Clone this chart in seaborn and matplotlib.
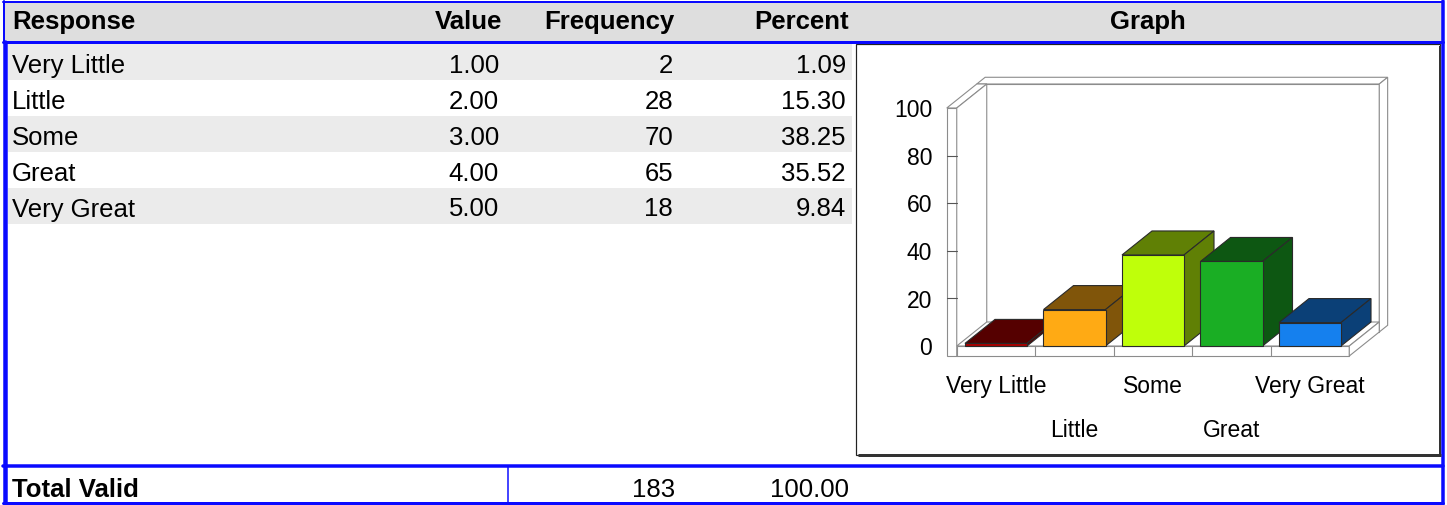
import pandas as pd
import matplotlib
matplotlib.use('Agg')
import matplotlib.pyplot as plt
import seaborn as sns
from matplotlib.patches import Rectangle, Polygon

# frequency table data
responses = ['Very Little', 'Little', 'Some', 'Great', 'Very Great']
values = [1.00, 2.00, 3.00, 4.00, 5.00]
frequencies = [2, 28, 70, 65, 18]
percents = [1.09, 15.30, 38.25, 35.52, 9.84]
total_label = 'Total Valid'
total_freq = 183
total_pct = 100.00
headers = ['Response', 'Value', 'Frequency', 'Percent', 'Graph']
y_ticks = [0, 20, 40, 60, 80, 100]
front_colors = ['#aa0000', '#ffaa14', '#bfff0a', '#1aae24', '#1580ee']

sns.set_style('white')
plt.rcParams['font.family'] = ['Liberation Sans', 'DejaVu Sans']
plt.rcParams['text.color'] = 'black'

W, H = 1447, 506
PT = 0.72  # points per pixel at dpi 100
BLUE = '#0a0aff'
fig = plt.figure(figsize=(W / 100, H / 100), dpi=100)

# ---- table layer, pixel coordinates ----
tab = fig.add_axes([0, 0, 1, 1])
tab.set_xlim(0, W)
tab.set_ylim(H, 0)
tab.axis('off')

tab.add_patch(Rectangle((3, 3), 1440, 39, fc='#dedede', ec='none'))
for i in range(0, len(responses), 2):
    tab.add_patch(Rectangle((8, 45 + 36 * i), 844, 36, fc='#ebebeb', ec='none'))

fs = 18.5
tab.text(12, 28.5, headers[0], ha='left', va='baseline', fontsize=fs, fontweight='bold')
for h, x in zip(headers[1:4], [502, 675, 849]):
    tab.text(x, 28.5, h, ha='right', va='baseline', fontsize=fs, fontweight='bold')
tab.text(1148, 28.5, headers[4], ha='center', va='baseline', fontsize=fs, fontweight='bold')

for i, (r, v, f, p) in enumerate(zip(responses, values, frequencies, percents)):
    yb = 72.5 + 36 * i
    tab.text(12, yb, r, ha='left', va='baseline', fontsize=fs)
    tab.text(499, yb, f'{v:.2f}', ha='right', va='baseline', fontsize=fs)
    tab.text(673, yb, f'{f}', ha='right', va='baseline', fontsize=fs)
    tab.text(846, yb, f'{p:.2f}', ha='right', va='baseline', fontsize=fs)

tab.text(12, 497, total_label, ha='left', va='baseline', fontsize=fs, fontweight='bold')
tab.text(675, 497, f'{total_freq}', ha='right', va='baseline', fontsize=fs)
tab.text(849, 497, f'{total_pct:.2f}', ha='right', va='baseline', fontsize=fs)

# blue frame
tab.plot([3, 1443], [2.5, 2.5], color=BLUE, lw=2 * PT)
tab.plot([3, 1443], [43, 43], color=BLUE, lw=3 * PT)
tab.plot([3.5, 3.5], [2, 43], color=BLUE, lw=2 * PT)
tab.plot([5, 5], [43, 505], color=BLUE, lw=4.5 * PT)
tab.plot([1442.5, 1442.5], [2, 505], color=BLUE, lw=3.5 * PT)
tab.plot([3, 1443], [466.5, 466.5], color=BLUE, lw=3.5 * PT)
tab.plot([3, 1443], [503.5, 503.5], color=BLUE, lw=3 * PT)
tab.plot([508, 508], [467, 503], color=BLUE, lw=1.5 * PT)

# graph box with shadow
tab.add_patch(Rectangle((856, 45), 584, 411, fc='white', ec='#222222', lw=1.2 * PT))
tab.plot([858, 1441], [456, 456], color='#333333', lw=3 * PT, solid_capstyle='butt')
tab.plot([1440, 1440], [47, 457], color='#333333', lw=2 * PT, solid_capstyle='butt')

# ---- 3D bar chart ----
PX, PY = 78.5, 2.38          # pixels per category / per percent
X0PX, Y0PX = 996, 347        # pixel of first category at 0 %
L, R, T, B = 857, 1438, 47, 455
ax = fig.add_axes([L / W, (H - B) / H, (R - L) / W, (B - T) / H])
ax.patch.set_alpha(0)

df = pd.DataFrame({'Response': responses, 'Percent': percents})
sns.barplot(data=df, x='Response', y='Percent', hue='Response', palette=front_colors,
            saturation=1, width=0.79, errorbar=None, legend=False,
            edgecolor='#2a2a2a', linewidth=0.8, ax=ax)
bars = list(ax.patches)

ax.set_xlim((L - X0PX) / PX, (R - X0PX) / PX)
ax.set_ylim((Y0PX - B) / PY, (Y0PX - T) / PY)
ax.axis('off')

DX, DY = 30 / PX, 24 / PY    # depth vector
WALL, FLOOR, BACK = 10 / PX, 10 / PY, 0.28
n = len(responses)
ymax = y_ticks[-1]


def proj(x, y, z):
    return (x + z * DX, y + z * DY)


def faces(x0, x1, y0, y1, z0, z1, front, top, side, zo, ec, lw=0.8, draw_front=True):
    if draw_front:
        ax.add_patch(Polygon([proj(x0, y0, z0), proj(x1, y0, z0), proj(x1, y1, z0), proj(x0, y1, z0)],
                             closed=True, fc=front, ec=ec, lw=lw, zorder=zo))
    ax.add_patch(Polygon([proj(x0, y1, z0), proj(x1, y1, z0), proj(x1, y1, z1), proj(x0, y1, z1)],
                         closed=True, fc=top, ec=ec, lw=lw, zorder=zo))
    ax.add_patch(Polygon([proj(x1, y0, z0), proj(x1, y0, z1), proj(x1, y1, z1), proj(x1, y1, z0)],
                         closed=True, fc=side, ec=ec, lw=lw, zorder=zo))


wc = '#8c8c8c'
lo, hi = -0.5, n - 0.5
faces(lo - WALL, hi, -FLOOR, ymax, 1, 1 + BACK, 'white', 'white', 'white', 1, wc)
faces(lo - WALL, lo, -FLOOR, ymax, 0, 1, 'white', 'white', 'white', 1.2, wc)
faces(lo, hi, -FLOOR, 0, 0, 1, 'white', 'white', 'white', 1.4, wc)
for k in range(1, n):
    ax.plot([k - 0.5, k - 0.5], [-FLOOR, 0], color=wc, lw=0.8, zorder=1.5)
for t in y_ticks[1:-1]:
    ax.plot([lo - WALL, lo], [t, t], color='#555555', lw=0.8, zorder=1.5)

for i, p in enumerate(bars):
    x0, w, h = p.get_x(), p.get_width(), p.get_height()
    c = matplotlib.colors.to_rgb(front_colors[i])
    shade = tuple(ch * 0.5 for ch in c)
    faces(x0, x0 + w, 0, h, 0, 1, None, shade, shade, 3 + 2 * i, '#2a2a2a', draw_front=False)
    p.set_zorder(4 + 2 * i)

for t in y_ticks:
    ax.text((932 - X0PX) / PX, t - 3.45, str(t), ha='right', va='baseline', fontsize=16.5)
for i, r in enumerate(responses):
    yb = -19.3 if i % 2 == 0 else -37.8
    ax.text(i, yb, r, ha='center', va='baseline', fontsize=16.5)

fig.savefig('out.png', dpi=100)
